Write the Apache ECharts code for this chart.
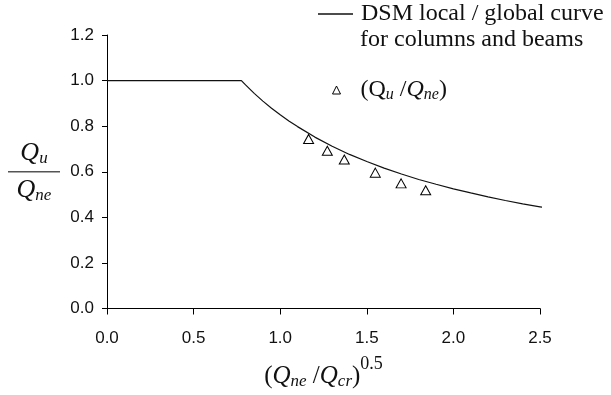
<!DOCTYPE html>
<html>
<head>
<meta charset="utf-8">
<script src="https://cdn.jsdelivr.net/npm/echarts@6/dist/echarts.min.js"></script>
<style>
  html, body { margin: 0; padding: 0; background: #fff; }
  #chart { width: 611px; height: 395px; }
</style>
</head>
<body>
<div id="chart"></div>
<script>
// DSM local / global curve
const curveX = [0, 0.776, 0.80, 0.85, 0.90, 0.95, 1.00, 1.05, 1.10, 1.20, 1.30, 1.40, 1.50, 1.60, 1.70, 1.80, 1.90, 2.00, 2.10, 2.20, 2.30, 2.40, 2.50, 2.53];
const curveY = [1.000, 1.000, 0.981, 0.944, 0.910, 0.879, 0.850, 0.823, 0.798, 0.752, 0.712, 0.676, 0.645, 0.616, 0.590, 0.566, 0.545, 0.525, 0.507, 0.490, 0.474, 0.459, 0.446, 0.442];
// Test results (Qu/Qne)
const testX = [1.164, 1.272, 1.370, 1.549, 1.698, 1.840];
const testY = [0.744, 0.692, 0.654, 0.596, 0.549, 0.519];
// Axis ticks
const xTickMin = 0, xTickMax = 2.5, xTickStep = 0.5;
const yTickMin = 0, yTickMax = 1.2, yTickStep = 0.2;

const curveName = 'DSM local / global curve';
const testName = 'test';

const serif = '"Liberation Serif", "Times New Roman", serif';
const sans = '"Liberation Sans", Arial, Helvetica, sans-serif';

const chart = echarts.init(document.getElementById('chart'), null, { renderer: 'canvas' });

chart.setOption({
  animation: false,
  backgroundColor: '#fff',
  grid: { left: 107, right: 71, top: 35, bottom: 77, containLabel: false },
  title: {
    text: 'for columns and beams',
    left: 360, top: 27,
    padding: 0,
    textStyle: { fontFamily: serif, fontSize: 24, fontWeight: 'normal', color: '#111', lineHeight: 26 }
  },
  legend: [
    {
      data: [{ name: curveName, icon: 'rect' }],
      orient: 'vertical',
      left: 318, top: 2, padding: 0,
      itemWidth: 35, itemHeight: 1.3,
      itemStyle: { color: '#111', borderWidth: 0 },
      textStyle: { fontFamily: serif, fontSize: 24, color: '#111', padding: [0, 0, 0, 3] }
    },
    {
      data: [{ name: testName, icon: 'triangle' }],
      orient: 'vertical',
      left: 332, top: 78, padding: 0,
      itemWidth: 8, itemHeight: 8,
      itemStyle: { color: '#fff', borderColor: '#000', borderWidth: 1 },
      formatter: function () {
        return '{r|(Q}{si|u}{r| /}{i|Q}{si|ne}{r|)}';
      },
      textStyle: {
        fontFamily: serif, fontSize: 24, color: '#111', padding: [0, 0, 0, 15],
        rich: {
          r: { fontFamily: serif, fontSize: 24, color: '#111' },
          i: { fontFamily: serif, fontSize: 24, fontStyle: 'italic', color: '#111' },
          si: { fontFamily: serif, fontSize: 16, fontStyle: 'italic', color: '#111', padding: [10, 0, 0, 0] }
        }
      }
    }
  ],
  xAxis: {
    type: 'value',
    min: xTickMin, max: xTickMax, interval: xTickStep,
    name: '{p|(}{q|Q}{s|ne}{p| /}{q|Q}{s|cr}{p|)}{u|0.5}',
    nameLocation: 'middle',
    nameGap: 47,
    nameTextStyle: {
      rich: {
        p: { fontFamily: serif, fontSize: 25, color: '#111' },
        q: { fontFamily: serif, fontSize: 25, fontStyle: 'italic', color: '#111' },
        s: { fontFamily: serif, fontSize: 17, fontStyle: 'italic', color: '#111', padding: [10, 0, 0, 0] },
        u: { fontFamily: serif, fontSize: 18, color: '#111', padding: [0, 0, 24, 0] }
      }
    },
    axisLine: { show: true, lineStyle: { color: '#000', width: 1 } },
    axisTick: { show: true, inside: false, length: 6, lineStyle: { color: '#000', width: 1 } },
    axisLabel: { margin: 21, fontFamily: sans, fontSize: 17, color: '#111', formatter: v => v.toFixed(1) },
    splitLine: { show: false }
  },
  yAxis: {
    type: 'value',
    min: yTickMin, max: yTickMax, interval: yTickStep,
    name: '{q|Q}{s|u}\n{bar| }\n{q|Q}{s|ne}',
    nameLocation: 'middle',
    nameRotate: 0,
    nameGap: 73,
    nameTextStyle: {
      align: 'center',
      rich: {
        q: { fontFamily: serif, fontSize: 26, fontStyle: 'italic', color: '#111', lineHeight: 27 },
        s: { fontFamily: serif, fontSize: 17, fontStyle: 'italic', color: '#111', padding: [10, 0, 0, 0], lineHeight: 27 },
        bar: { width: 52, height: 1.5, backgroundColor: '#555', lineHeight: 10, fontSize: 1 }
      }
    },
    axisLine: { show: true, lineStyle: { color: '#000', width: 1 } },
    axisTick: { show: true, inside: false, length: 5, lineStyle: { color: '#000', width: 1 } },
    axisLabel: { margin: 13, fontFamily: sans, fontSize: 17, color: '#111', formatter: v => v.toFixed(1) },
    splitLine: { show: false }
  },
  series: [
    {
      name: curveName,
      type: 'line',
      data: curveX.map((x, i) => [x, curveY[i]]),
      symbol: 'none',
      clip: false,
      smooth: false,
      lineStyle: { color: '#111', width: 1.2 },
      itemStyle: { color: '#111' }
    },
    {
      name: testName,
      type: 'scatter',
      data: testX.map((x, i) => [x, testY[i]]),
      symbol: 'triangle',
      symbolSize: [10, 9],
      itemStyle: { color: '#fff', borderColor: '#000', borderWidth: 1, opacity: 1 }
    }
  ]
});
</script>
</body>
</html>
